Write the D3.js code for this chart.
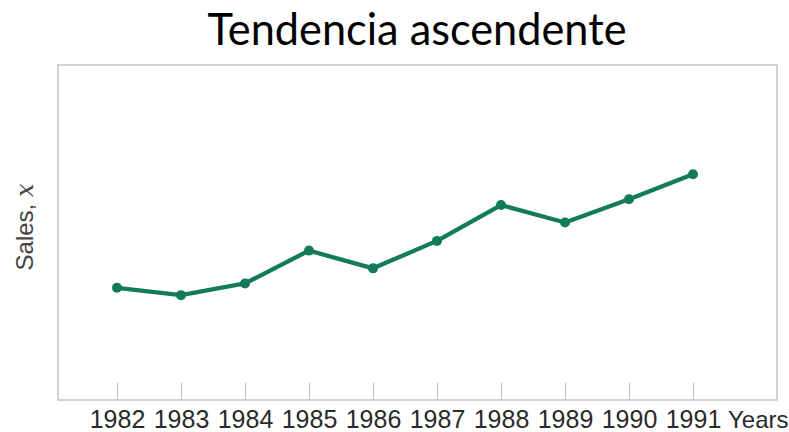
<!DOCTYPE html>
<html><head><meta charset="utf-8">
<script src="https://cdn.jsdelivr.net/npm/d3@7"></script>
<style>body{margin:0;background:#fff}svg{display:block}</style>
</head><body>
<svg id="c" width="789" height="432"></svg>
<script>
const years = [1982,1983,1984,1985,1986,1987,1988,1989,1990,1991];
const sales = [33.5,31.3,34.8,44.6,39.3,47.5,58.2,53.0,59.9,67.4];
const tickLabels = years.map(String);
const title = "Tendencia ascendente";

const svg = d3.select("#c");
const frame = {l:58, r:777, t:65, b:400};
const x = d3.scaleLinear().domain([1982,1991]).range([117,693]);
const y = d3.scaleLinear().domain([0,100]).range([frame.b, frame.t]);

svg.append("rect").attr("x",frame.l).attr("y",frame.t)
  .attr("width",frame.r-frame.l).attr("height",frame.b-frame.t)
  .attr("fill","none").attr("stroke","#c4c4c4").attr("stroke-width",1.5);

const ax = svg.append("g").attr("transform",`translate(0,${frame.b})`)
  .call(d3.axisBottom(x).tickValues(years).tickFormat((d,i)=>tickLabels[i])
    .tickSizeInner(-17).tickSizeOuter(0).tickPadding(10));
ax.select(".domain").remove();
ax.selectAll(".tick line").attr("stroke","#c4c4c4").attr("stroke-width",1.3);
ax.selectAll(".tick text").attr("y",28).attr("dy",null)
  .attr("font-family","Liberation Sans, Arial, sans-serif").attr("font-size",25).attr("fill","#2a2a2a");

svg.append("text").attr("x",728).attr("y",428)
  .attr("font-family","Liberation Sans, Arial, sans-serif").attr("font-size",24).attr("fill","#2a2a2a")
  .text("Years");

const yl = svg.append("text").attr("transform","translate(33,227) rotate(-90)")
  .attr("text-anchor","middle")
  .attr("font-family","Liberation Sans, Arial, sans-serif").attr("font-size",24).attr("fill","#444");
yl.append("tspan").text("Sales, ");
yl.append("tspan").attr("font-family","DejaVu Serif, Liberation Serif, serif").attr("font-style","italic").text("x");

const t = svg.append("text").attr("x",417).attr("y",45).attr("text-anchor","middle")
  .attr("font-family","Lato, sans-serif").attr("font-size",44).attr("fill","#000").text(title);
t.attr("textLength",419).attr("lengthAdjust","spacingAndGlyphs");

const data = years.map((d,i)=>({year:d, v:sales[i]}));
svg.append("path").datum(data)
  .attr("fill","none").attr("stroke","#137b5c").attr("stroke-width",4.3).attr("stroke-linejoin","round")
  .attr("d", d3.line().x(d=>x(d.year)).y(d=>y(d.v)));
svg.selectAll("circle.pt").data(data).join("circle").attr("class","pt")
  .attr("cx",d=>x(d.year)).attr("cy",d=>y(d.v)).attr("r",5).attr("fill","#137b5c");
</script>
</body></html>
